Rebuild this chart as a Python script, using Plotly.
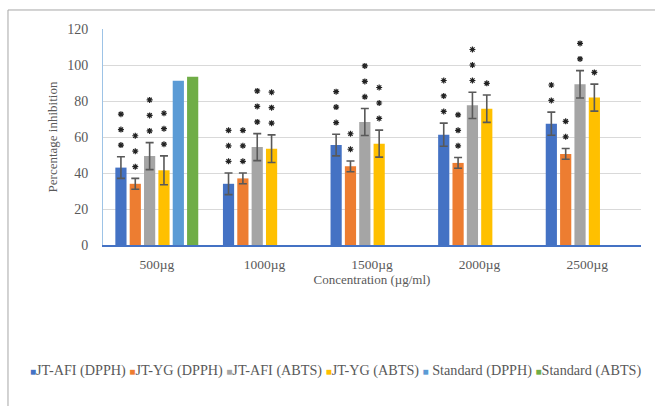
import plotly.graph_objects as go

categories = ["500µg", "1000µg", "1500µg", "2000µg", "2500µg"]
series_names = ["JT-AFI (DPPH)", "JT-YG (DPPH)", "JT-AFI (ABTS)", "JT-YG (ABTS)",
                "Standard (DPPH)", "Standard (ABTS)"]
colors = ["#4472C4", "#ED7D31", "#A5A5A5", "#FFC000", "#5B9BD5", "#70AD47"]

jt_afi_dpph = [43.0, 34.0, 55.5, 61.3, 67.4]
jt_yg_dpph = [34.0, 37.0, 43.7, 45.6, 50.6]
jt_afi_abts = [49.4, 54.4, 68.3, 77.6, 89.3]
jt_yg_abts = [41.5, 53.5, 56.3, 75.7, 81.9]
standard_dpph = [91.3, None, None, None, None]
standard_abts = [93.5, None, None, None, None]

err_afi_dpph = [6.0, 6.0, 6.0, 6.4, 6.4]
err_yg_dpph = [3.0, 3.0, 3.0, 3.0, 3.0]
err_afi_abts = [7.5, 7.5, 7.5, 7.3, 7.6]
err_yg_abts = [8.0, 7.7, 7.5, 7.6, 7.5]

stars_afi_dpph = [3, 3, 3, 3, 2]
stars_yg_dpph = [3, 3, 2, 3, 2]
stars_afi_abts = [3, 3, 3, 3, 2]
stars_yg_abts = [3, 3, 3, 1, 1]

y_ticks = [0, 20, 40, 60, 80, 100, 120]

values = [jt_afi_dpph, jt_yg_dpph, jt_afi_abts, jt_yg_abts, standard_dpph, standard_abts]
errors = [err_afi_dpph, err_yg_dpph, err_afi_abts, err_yg_abts, None, None]
stars = [stars_afi_dpph, stars_yg_dpph, stars_afi_abts, stars_yg_abts]

FONT = "Liberation Serif, Times New Roman, serif"
xs = list(range(len(categories)))
BARGAP = 0.2
n_series = len(series_names)
slot = (1 - BARGAP) / n_series

fig = go.Figure()
for k, (name, vals, err, col) in enumerate(zip(series_names, values, errors, colors)):
    kw = {}
    if err is not None:
        kw["error_y"] = dict(type="data", array=err, visible=True,
                             color="#595959", thickness=1.6, width=4)
    fig.add_trace(go.Bar(x=xs, y=vals, name=name, marker_color=col,
                         marker_line_width=0, showlegend=False, **kw))

# significance asterisks above error bars
STAR_GAP = 6.5
STAR_STEP = 8.6
sx, sy = [], []
for k in range(4):
    for i in xs:
        top = values[k][i] + errors[k][i]
        for j in range(stars[k][i]):
            sx.append(i + (k - (n_series - 1) / 2) * slot)
            sy.append(top + STAR_GAP + j * STAR_STEP)
fig.add_trace(go.Scatter(x=sx, y=sy, mode="markers", showlegend=False,
                         marker=dict(symbol="asterisk-open", size=5, color="#222222",
                                     line=dict(color="#222222", width=1.2))))

# legend drawn as a text row
leg_parts = []
for name, col in zip(series_names, colors):
    pad = " " if name.startswith("Standard (D") else ""
    leg_parts.append(f'<span style="color:{col};font-size:10px">■</span>{pad}{name}')
fig.add_annotation(text=" ".join(leg_parts), xref="paper", yref="paper",
                   x=-0.1385, y=-0.583, xanchor="left", yanchor="middle",
                   showarrow=False, font=dict(family=FONT, size=14.2, color="#595959"))

# outer chart frame
fig.add_shape(type="rect", xref="paper", yref="paper",
              x0=-0.1766, x1=1.2, y0=-1.2, y1=1.088,
              line=dict(color="#A6A6A6", width=1), fillcolor="rgba(0,0,0,0)", layer="below")

fig.update_layout(
    width=655, height=406,
    margin=dict(l=103, r=14, t=29, b=161),
    paper_bgcolor="white", plot_bgcolor="white",
    barmode="group", bargap=BARGAP, bargroupgap=0.22,
    font=dict(family=FONT, color="#595959", size=13),
    xaxis=dict(range=[-0.5, len(categories) - 0.5], tickmode="array", tickvals=xs,
               ticktext=categories, showgrid=False, zeroline=False,
               showline=True, linecolor="#4472C4", linewidth=1.5,
               ticks="", ticklabelstandoff=6, tickfont=dict(size=13.5),
               title=dict(text="Concentration (µg/ml)", font=dict(size=13), standoff=4)),
    yaxis=dict(range=[0, 120], tickmode="array", tickvals=y_ticks,
               showgrid=True, gridcolor="#D9D9D9", gridwidth=1.2, zeroline=False,
               showline=True, linecolor="#9DC3E6", linewidth=1,
               ticks="", ticklabelstandoff=11, tickfont=dict(size=14),
               title=dict(text="Percentage inhibition", font=dict(size=13), standoff=6)),
)

fig.write_html("out.html")
